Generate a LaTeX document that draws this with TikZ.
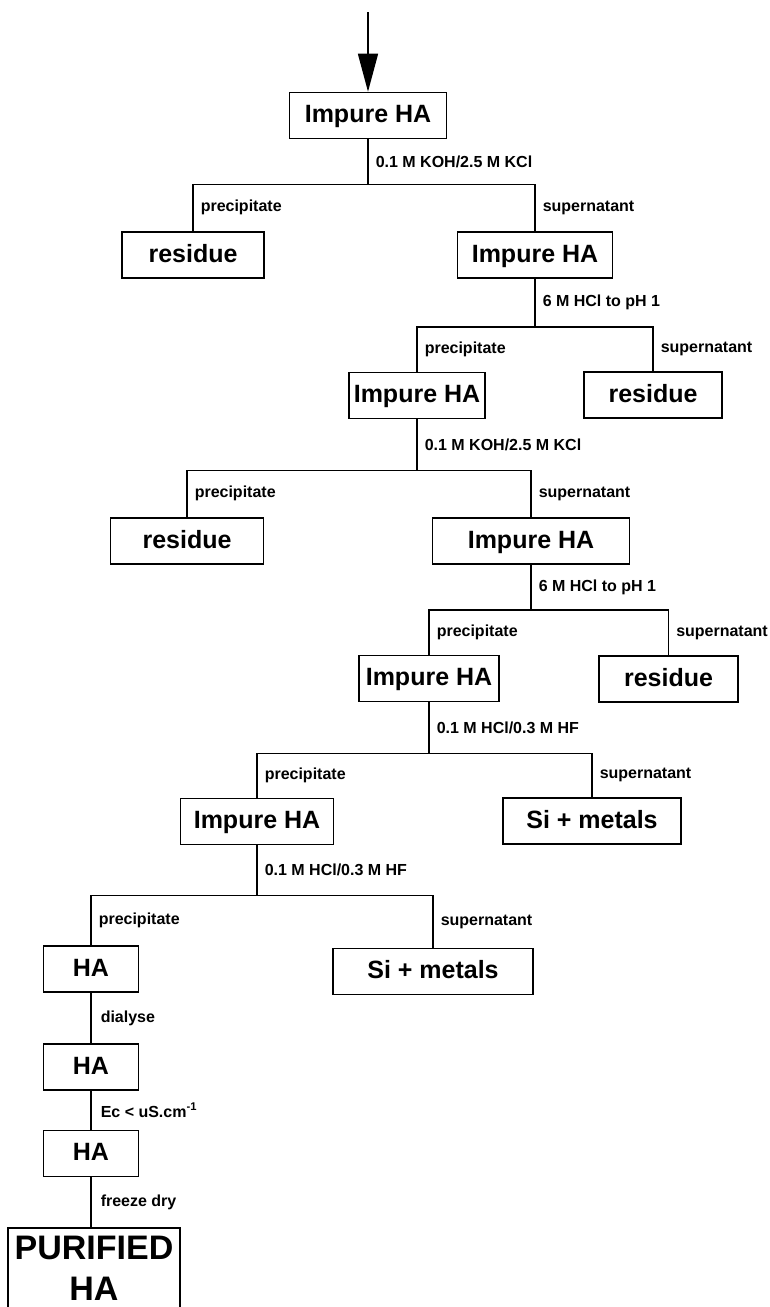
\documentclass[tikz,border=0pt]{standalone}
\usepackage{fontspec}
\setmainfont{Liberation Sans}
\usepackage{tikz}
\usetikzlibrary{arrows.meta}

\begin{document}
\begin{tikzpicture}[x=1pt,y=-1pt,
    box/.style={draw,line width=1.6pt,inner sep=0pt,minimum height=46pt,text height=18pt,text depth=4pt,
        font=\fontsize{25}{28}\selectfont\bfseries},
    lbl/.style={anchor=west,inner sep=0pt,xshift=7pt,font=\fontsize{16}{18}\selectfont\bfseries},
    link/.style={line width=1.5pt}]
\useasboundingbox (0,0) rectangle (769,1307);
\clip (0,0) rectangle (769,1307);
\node[box,minimum width=157pt] (a) at (368,115.5) {Impure HA};
\node[box,minimum width=142pt] (r1) at (193,255) {residue};
\node[box,minimum width=155pt] (b) at (535,255) {Impure HA};
\node[box,minimum width=136pt] (c) at (417,395.5) {Impure HA};
\node[box,minimum width=138pt] (r2) at (653,395) {residue};
\node[box,minimum width=153pt] (r3) at (187,541) {residue};
\node[box,minimum width=197pt] (d) at (531,541) {Impure HA};
\node[box,minimum width=140pt] (e) at (429,678.5) {Impure HA};
\node[box,minimum width=139pt] (r4) at (668.5,679) {residue};
\node[box,minimum width=153pt] (f) at (257,821.5) {Impure HA};
\node[box,minimum width=178pt] (s1) at (592,821) {Si + metals};
\node[box,minimum width=95pt] (g) at (91,969) {HA};
\node[box,minimum width=200pt] (s2) at (433,971.5) {Si + metals};
\node[box,minimum width=95pt] (h) at (91,1067) {HA};
\node[box,minimum width=95pt] (i) at (91,1153.5) {HA};
\node[draw,line width=1.6pt,inner sep=0pt,minimum width=172pt,minimum height=80pt,anchor=north,align=center,
    font=\fontsize{34}{41}\selectfont\bfseries] (j) at (94,1227) {PURIFIED\\HA};
\coordinate (feed) at (368,12);
\draw[link,-{Triangle[length=38pt,width=20pt]}] (feed) -- (a.north);
\foreach \p/\l/\r/\d/\t in {a/r1/b/45/{0.1 M KOH/2.5 M KCl}, b/c/r2/48/{6 M HCl to pH 1},
    c/r3/d/51/{0.1 M KOH/2.5 M KCl}, d/e/r4/45/{6 M HCl to pH 1},
    e/f/s1/51/{0.1 M HCl/0.3 M HF}, f/g/s2/50/{0.1 M HCl/0.3 M HF}}{
  \draw[link] (\p.south) -- ++(0,\d) node[lbl,midway] {\t} coordinate (k);
  \draw[link] (\l.north) |- node[lbl,pos=.25] {precipitate} (k) -| node[lbl,pos=.75] {supernatant} (\r.north);
}
\draw[link] (g) -- node[lbl,xshift=2pt] {dialyse} (h);
\draw[link] (h) -- node[lbl,xshift=2pt] {Ec < uS.cm\textsuperscript{-1}} (i);
\draw[link] (i) -- node[lbl,xshift=2pt] {freeze dry} (i |- j.north);
\end{tikzpicture}
\end{document}
